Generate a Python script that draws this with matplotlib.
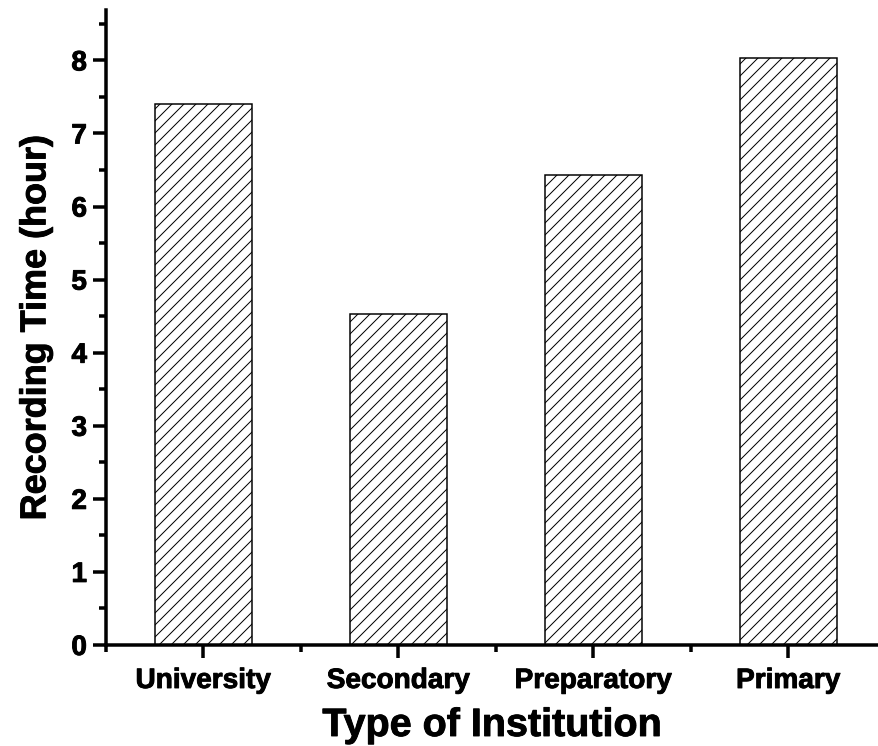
import matplotlib.pyplot as plt
import matplotlib.patheffects as pe
from matplotlib.ticker import MultipleLocator

institutions = ['University', 'Secondary', 'Preparatory', 'Primary']
hours = [7.41, 4.53, 6.43, 8.03]

plt.rcParams['font.family'] = 'Liberation Sans'
plt.rcParams['font.weight'] = 'bold'
plt.rcParams['hatch.linewidth'] = 1.0

dpi = 72
fig = plt.figure(figsize=(878 / dpi, 746 / dpi), dpi=dpi)
ax = fig.add_axes([0.1207, 0.1354, 0.8793, 0.8512])

xs = range(1, len(institutions) + 1)
ax.bar(xs, hours, width=0.5, color='white', edgecolor='black',
       linewidth=1.5, hatch='//')

ax.set_xlim(0.5, 4.46)
ax.set_ylim(0, 8.69)
ax.set_xticks(list(xs))
ax.set_xticklabels(institutions)
ax.xaxis.set_minor_locator(MultipleLocator(1, offset=0.5))
ax.yaxis.set_major_locator(MultipleLocator(1))
ax.yaxis.set_minor_locator(MultipleLocator(0.5))

for side in ['top', 'right']:
    ax.spines[side].set_visible(False)
for side in ['left', 'bottom']:
    ax.spines[side].set_linewidth(3.5)

ax.tick_params(axis='both', which='major', length=13, width=3.5, direction='out')
ax.tick_params(axis='both', which='minor', length=7, width=3.5, direction='out')
ax.tick_params(axis='y', labelsize=28, pad=6)
ax.tick_params(axis='x', labelsize=28, pad=10)

ax.set_xlabel('Type of Institution', fontsize=39.5, fontweight='bold', labelpad=12)
ax.set_ylabel('Recording Time (hour)', fontsize=36, fontweight='bold', labelpad=18)

thick = [pe.withStroke(linewidth=0.9, foreground='black')]
for t in ax.get_xticklabels() + ax.get_yticklabels():
    t.set_path_effects(thick)
ax.xaxis.label.set_path_effects(thick)
ax.yaxis.label.set_path_effects(thick)

fig.savefig('out.png', dpi=dpi)
